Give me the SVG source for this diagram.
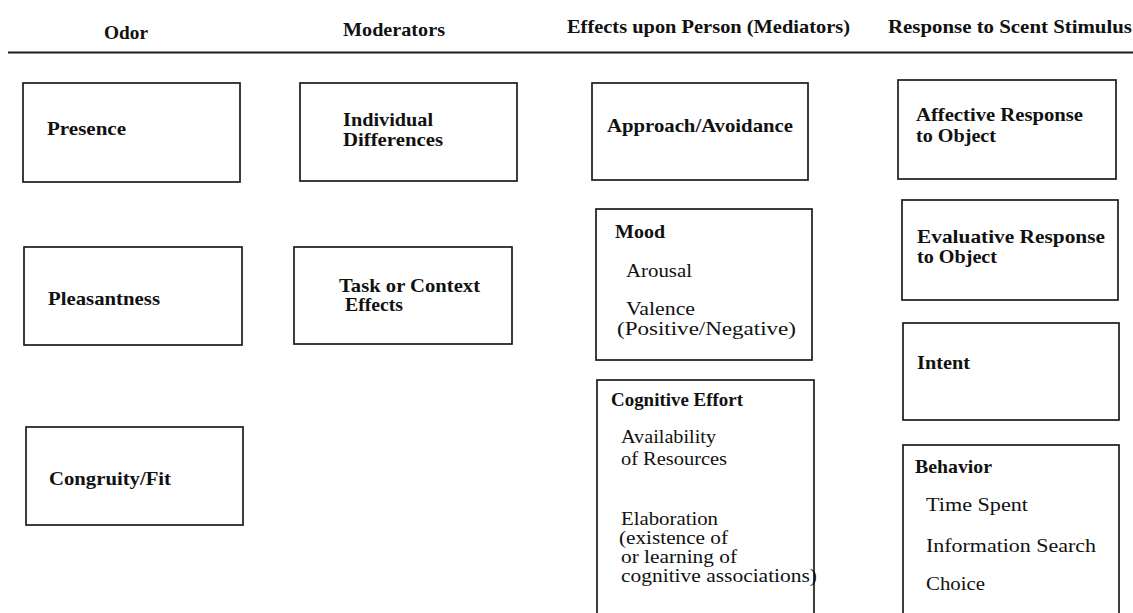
<svg xmlns="http://www.w3.org/2000/svg" width="1133" height="613" viewBox="0 0 1133 613">
<style>
.box{fill:#ffffff;stroke:#1c1c1c;stroke-width:1.7}
.rule{stroke:#1c1c1c;stroke-width:1.8}
text{font-family:"Liberation Serif","Times New Roman",serif;font-size:19px;fill:#111111}
.b{font-weight:bold}
.r{font-weight:normal}
</style>
<rect width="1133" height="613" fill="#ffffff"/>
<g id="header">
<text class="b" x="104" y="39" textLength="44" lengthAdjust="spacingAndGlyphs">Odor</text>
<text class="b" x="343" y="36" textLength="102" lengthAdjust="spacingAndGlyphs">Moderators</text>
<text class="b" x="567" y="32.5" textLength="283" lengthAdjust="spacingAndGlyphs">Effects upon Person (Mediators)</text>
<text class="b" x="888" y="32.5" textLength="244" lengthAdjust="spacingAndGlyphs">Response to Scent Stimulus</text>
<line class="rule" x1="8" y1="52.5" x2="1133" y2="52.5"/>
</g>
<g id="connectors"></g>
<g id="presence">
<rect class="box" x="23" y="83" width="217" height="99"/>
<text class="b" x="47" y="135" textLength="79" lengthAdjust="spacingAndGlyphs">Presence</text>
</g>
<g id="pleasantness">
<rect class="box" x="24" y="247" width="218" height="98"/>
<text class="b" x="48" y="305" textLength="112" lengthAdjust="spacingAndGlyphs">Pleasantness</text>
</g>
<g id="congruity">
<rect class="box" x="26" y="427" width="217" height="98"/>
<text class="b" x="49" y="485" textLength="122" lengthAdjust="spacingAndGlyphs">Congruity/Fit</text>
</g>
<g id="individual-differences">
<rect class="box" x="300" y="83" width="217" height="98"/>
<text class="b" x="343" y="126" textLength="90" lengthAdjust="spacingAndGlyphs">Individual</text>
<text class="b" x="343" y="146" textLength="100" lengthAdjust="spacingAndGlyphs">Differences</text>
</g>
<g id="task-context">
<rect class="box" x="294" y="247" width="218" height="97"/>
<text class="b" x="339" y="292" textLength="141" lengthAdjust="spacingAndGlyphs">Task or Context</text>
<text class="b" x="345" y="311" textLength="58" lengthAdjust="spacingAndGlyphs">Effects</text>
</g>
<g id="approach-avoidance">
<rect class="box" x="592" y="83" width="216" height="97"/>
<text class="b" x="607" y="132" textLength="186" lengthAdjust="spacingAndGlyphs">Approach/Avoidance</text>
</g>
<g id="mood">
<rect class="box" x="596" y="209" width="216" height="151"/>
<text class="b" x="615" y="238" textLength="50" lengthAdjust="spacingAndGlyphs">Mood</text>
<text class="r" x="626" y="277" textLength="66" lengthAdjust="spacingAndGlyphs">Arousal</text>
<text class="r" x="626" y="315" textLength="69" lengthAdjust="spacingAndGlyphs">Valence</text>
<text class="r" x="617" y="335" textLength="179" lengthAdjust="spacingAndGlyphs">(Positive/Negative)</text>
</g>
<g id="cognitive-effort">
<rect class="box" x="597" y="380" width="217" height="245"/>
<text class="b" x="611" y="406" textLength="132" lengthAdjust="spacingAndGlyphs">Cognitive Effort</text>
<text class="r" x="621" y="443" textLength="95" lengthAdjust="spacingAndGlyphs">Availability</text>
<text class="r" x="621" y="465" textLength="106" lengthAdjust="spacingAndGlyphs">of Resources</text>
<text class="r" x="621" y="524.5" textLength="97" lengthAdjust="spacingAndGlyphs">Elaboration</text>
<text class="r" x="619" y="543.5" textLength="109" lengthAdjust="spacingAndGlyphs">(existence of</text>
<text class="r" x="621" y="562.5" textLength="116" lengthAdjust="spacingAndGlyphs">or learning of</text>
<text class="r" x="621" y="581.5" textLength="196" lengthAdjust="spacingAndGlyphs">cognitive associations)</text>
</g>
<g id="affective-response">
<rect class="box" x="898" y="80" width="218" height="99"/>
<text class="b" x="916" y="121" textLength="167" lengthAdjust="spacingAndGlyphs">Affective Response</text>
<text class="b" x="916" y="142" textLength="80" lengthAdjust="spacingAndGlyphs">to Object</text>
</g>
<g id="evaluative-response">
<rect class="box" x="902" y="200" width="216" height="100"/>
<text class="b" x="917" y="243" textLength="188" lengthAdjust="spacingAndGlyphs">Evaluative Response</text>
<text class="b" x="917" y="263" textLength="80" lengthAdjust="spacingAndGlyphs">to Object</text>
</g>
<g id="intent">
<rect class="box" x="903" y="323" width="216" height="97"/>
<text class="b" x="917" y="369" textLength="53" lengthAdjust="spacingAndGlyphs">Intent</text>
</g>
<g id="behavior">
<rect class="box" x="903" y="445" width="216" height="180"/>
<text class="b" x="915" y="473" textLength="77" lengthAdjust="spacingAndGlyphs">Behavior</text>
<text class="r" x="926" y="511" textLength="102" lengthAdjust="spacingAndGlyphs">Time Spent</text>
<text class="r" x="926" y="552" textLength="170" lengthAdjust="spacingAndGlyphs">Information Search</text>
<text class="r" x="926" y="590" textLength="59" lengthAdjust="spacingAndGlyphs">Choice</text>
</g>
</svg>
